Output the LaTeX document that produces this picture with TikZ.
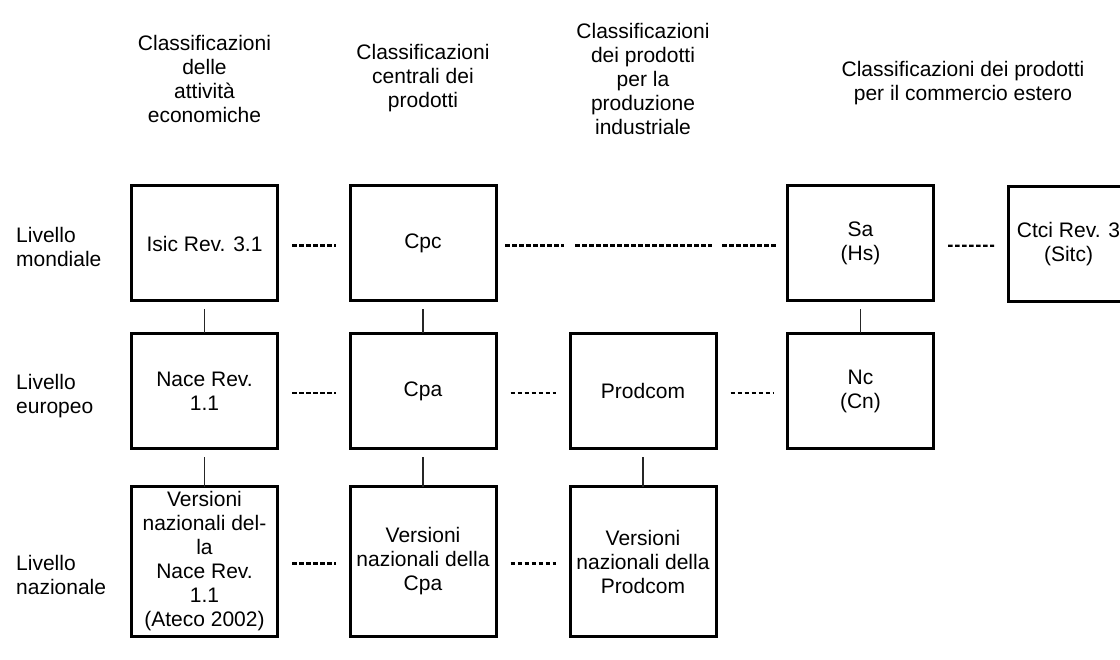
\documentclass[tikz,border=0pt]{standalone}
\usepackage{fontspec}
\setmainfont{Liberation Sans}
\usetikzlibrary{positioning, calc}

\begin{document}
\begin{tikzpicture}[x=1pt, y=-1pt,
		box/.style={draw, line width=3pt, minimum width=146pt, minimum height=115pt, inner sep=0pt, align=center, font=\fontsize{21}{24}\selectfont},
		lbl/.style={align=center, inner sep=0pt, font=\fontsize{21}{24}\selectfont},
		dashlink/.style={line width=2.2pt, dash pattern=on 4.7pt off 2.3pt, shorten <=13pt, shorten >=13pt, transform canvas={yshift=-2pt}},
		uplink/.style={line width=1.2pt, black!85, shorten <=7pt, shorten >=-1.5pt}]
			\useasboundingbox (0,0) rectangle (1120,660);
			\clip (0,0) rectangle (1120,660);

			\node (hatt) [lbl] at (204.5,78.5) {Classificazioni\\delle\\attività\\economiche};
			\node (hcen) [lbl] at (423,78.5) {Classificazioni\\centrali dei\\prodotti};
			\node (hind) [lbl] at (643,78.5) {Classificazioni\\dei prodotti\\per la\\produzione\\industriale};
			\node (hcom) [lbl] at (963,83) {Classificazioni dei prodotti\\per il commercio estero};

			\node (mond) [lbl, anchor=west, align=left] at (16,247) {Livello\\mondiale};
			\node (eur) [lbl, anchor=west, align=left] at (16,396) {Livello\\europeo};
			\node (naz) [lbl, anchor=west, align=left] at (16,575) {Livello\\nazionale};

			\node (isic) [box] at (204.5,243.5) {Isic Rev. 3.1};
			\node (cpc) [box] at (423,243.5) {Cpc};
			\node (sa) [box] at (860.5,243.5) {Sa\\(Hs)};
			\node (ctci) [box, minimum width=120pt] at (1068.5,244) {Ctci Rev. 3\\(Sitc)};

			\node (nace) [box] at (204.5,391) {Nace Rev.\\1.1};
			\node (cpa) [box] at (423,391) {Cpa};
			\node (prodcom) [box] at (643,391) {Prodcom};
			\node (nc) [box] at (860.5,391) {Nc\\(Cn)};

			\node (ateco) [box, minimum height=150pt] at (204.5,561.5) {Versioni\\nazionali del-\\la\\Nace Rev.\\1.1\\(Ateco 2002)};
			\node (cpanaz) [box, minimum height=150pt] at (423,561.5) {Versioni\\nazionali della\\Cpa};
			\node (prodnaz) [box, minimum height=150pt] at (643,561.5) {Versioni\\nazionali della\\Prodcom};

			\draw [uplink] (isic) -- (nace);
			\draw [uplink] (nace) -- (ateco);
			\draw [uplink] (cpc) -- (cpa);
			\draw [uplink] (cpa) -- (cpanaz);
			\draw [uplink] (prodcom) -- (prodnaz);
			\draw [uplink] (sa) -- (nc);

			\coordinate (w1) at (prodcom.west |- cpc);
			\coordinate (w2) at (prodcom.east |- cpc);
			\draw [dashlink] (isic) -- (cpc);
			\draw [dashlink, shorten <=7.5pt, shorten >=4.5pt] (cpc) -- (w1);
			\draw [dashlink, shorten <=6.5pt, shorten >=5.5pt] (w1) -- (w2);
			\draw [dashlink, shorten <=4.5pt, shorten >=9.5pt] (w2) -- (sa);
			\draw [dashlink] (sa) -- (ctci);
			\draw [dashlink] (nace) -- (cpa);
			\draw [dashlink] (cpa) -- (prodcom);
			\draw [dashlink] (prodcom) -- (nc);
			\draw [dashlink] (ateco) -- (cpanaz);
			\draw [dashlink] (cpanaz) -- (prodnaz);
		\end{tikzpicture}
\end{document}
